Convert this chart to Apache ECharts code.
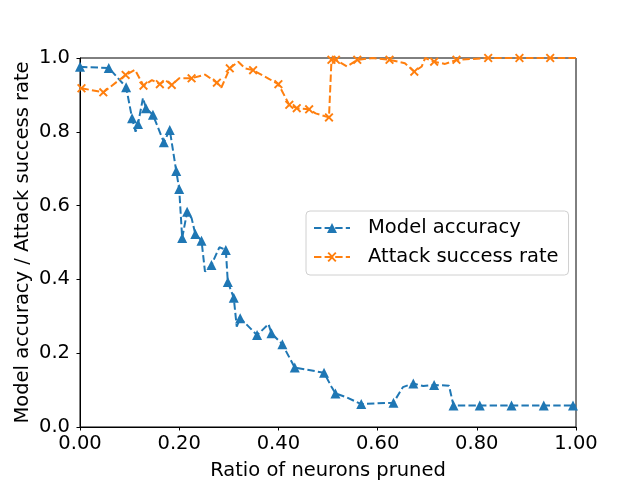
<!DOCTYPE html>
<html><head><meta charset="utf-8">
<script src="https://cdn.jsdelivr.net/npm/echarts@6/dist/echarts.min.js"></script>
<style>html,body{margin:0;padding:0;background:#fff}#c{width:640px;height:480px}</style>
</head><body><div id="c"></div>
<script>
// Model accuracy series
const accX = [0.000,0.058,0.093,0.105,0.112,0.117,0.127,0.133,0.147,0.169,0.181,0.194,0.200,0.206,0.216,0.225,0.2325,0.245,0.252,0.265,0.281,0.294,0.298,0.310,0.316,0.323,0.357,0.380,0.386,0.408,0.433,0.492,0.507,0.515,0.538,0.567,0.632,0.651,0.672,0.692,0.714,0.744,0.753,0.806,0.870,0.935,0.994,1.000];
const accY = [0.976,0.973,0.921,0.837,0.800,0.821,0.892,0.864,0.846,0.772,0.805,0.694,0.645,0.512,0.583,0.566,0.523,0.505,0.421,0.439,0.487,0.480,0.393,0.350,0.272,0.295,0.249,0.279,0.254,0.224,0.161,0.147,0.109,0.091,0.080,0.062,0.066,0.108,0.118,0.111,0.114,0.112,0.058,0.058,0.058,0.058,0.058,0.058];
const accUnmarked = [4,6,15,18,20,24,27,32,34,37,39,41,47];
// Attack success rate series
const asrX = [0.003,0.047,0.092,0.111,0.128,0.145,0.161,0.172,0.185,0.200,0.225,0.252,0.276,0.285,0.302,0.319,0.333,0.349,0.379,0.400,0.422,0.437,0.462,0.475,0.502,0.507,0.516,0.538,0.559,0.590,0.624,0.655,0.674,0.689,0.696,0.714,0.736,0.759,0.823,0.886,0.948,1.000];
const asrY = [0.918,0.907,0.954,0.968,0.925,0.940,0.929,0.940,0.927,0.945,0.945,0.955,0.933,0.920,0.972,0.990,0.972,0.967,0.945,0.929,0.873,0.864,0.861,0.850,0.839,0.995,0.995,0.977,0.995,1.000,0.995,0.986,0.963,0.977,1.000,0.990,0.984,0.995,1.000,1.000,1.000,1.000];
const asrUnmarked = [3,5,7,9,11,13,15,16,18,23,27,29,31,33,34,36,41];
const seriesNames = ['Model accuracy','Attack success rate'];

const font = 'DejaVu Sans';
const fs = 19.5;
const xMark = 'path://M0,1.5 L1.5,0 L5,3.5 L8.5,0 L10,1.5 L6.5,5 L10,8.5 L8.5,10 L5,6.5 L1.5,10 L0,8.5 L3.5,5 Z';
// legend icons: dashed line sample with marker in the middle (36 x 10 box)
const dashes = 'M0,4 L7.4,4 L7.4,6 L0,6 Z M10.6,4 L18,4 L18,6 L10.6,6 Z M21.2,4 L28.6,4 L28.6,6 L21.2,6 Z M31.8,4 L36,4 L36,6 L31.8,6 Z';
const legTri = 'path://' + dashes + ' M18,0 L23,10 L13,10 Z';
const legX = 'path://' + dashes + ' M13.5,1.35 L14.85,0 L18,3.15 L21.15,0 L22.5,1.35 L19.35,4.5 L19.35,5.5 L22.5,8.65 L21.15,10 L18,6.85 L14.85,10 L13.5,8.65 L16.65,5.5 L16.65,4.5 Z';
function pairs(xs, ys){ return xs.map((x,i)=>[x, ys[i]]); }
const chart = echarts.init(document.getElementById('c'), null, {renderer:'canvas'});
chart.setOption({
  animation:false,
  backgroundColor:'#fff',
  grid:{left:80,right:64,top:58,bottom:53,show:true,borderColor:'#000',borderWidth:1,backgroundColor:'transparent',
    containLabel:false,outerBoundsMode:'none'},
  xAxis:{type:'value',min:0,max:1,interval:0.2,
    name:'Ratio of neurons pruned',nameLocation:'middle',nameGap:34,nameMoveOverlap:false,
    nameTextStyle:{fontFamily:font,fontSize:fs,color:'#000'},
    axisLine:{lineStyle:{color:'#000',width:1}},
    axisTick:{show:true,length:3.5,lineStyle:{color:'#000'}},
    axisLabel:{fontFamily:font,fontSize:fs,color:'#000',margin:7,formatter:v=>v.toFixed(2)},
    splitLine:{show:false}},
  yAxis:{type:'value',min:0,max:1,interval:0.2,
    name:'Model accuracy / Attack success rate',nameLocation:'middle',nameGap:47,nameMoveOverlap:false,
    nameTextStyle:{fontFamily:font,fontSize:fs,color:'#000'},
    axisLine:{show:true,lineStyle:{color:'#000',width:1}},
    axisTick:{show:true,length:3.5,lineStyle:{color:'#000'}},
    axisLabel:{fontFamily:font,fontSize:fs,color:'#000',margin:10,formatter:v=>v.toFixed(1)},
    splitLine:{show:false}},
  legend:{orient:'vertical',left:306,top:211,itemWidth:36,itemHeight:10,itemGap:7,symbolKeepAspect:true,
    padding:[6,10,7,8],borderColor:'#d0d0d0',borderWidth:1,borderRadius:4,backgroundColor:'#fff',
    textStyle:{fontFamily:font,fontSize:fs,color:'#000',lineHeight:22,padding:[0,0,0,13]},
    data:[{name:seriesNames[0],icon:legTri},{name:seriesNames[1],icon:legX}]},
  series:[
    {name:seriesNames[0],type:'line',data:pairs(accX,accY),
      symbol:(v,p)=>accUnmarked.includes(p.dataIndex)?'none':'triangle',symbolSize:10,
      lineStyle:{color:'#1f77b4',width:2,type:[7.4,3.2]},
      itemStyle:{color:'#1f77b4'},clip:false,z:2},
    {name:seriesNames[1],type:'line',data:pairs(asrX,asrY),
      symbol:(v,p)=>asrUnmarked.includes(p.dataIndex)?'none':xMark,symbolSize:9,
      lineStyle:{color:'#ff7f0e',width:2,type:[7.4,3.2]},
      itemStyle:{color:'#ff7f0e'},clip:false,z:3}
  ]
});
</script></body></html>
